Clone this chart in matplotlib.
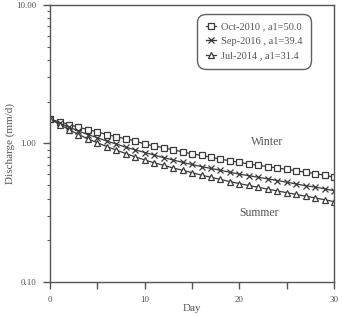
import numpy as np
import matplotlib
matplotlib.use('Agg')
import matplotlib.pyplot as plt
from matplotlib.ticker import FixedLocator, FuncFormatter, LogLocator, NullFormatter

plt.rcParams['font.family'] = ['Liberation Serif', 'DejaVu Serif']

days = np.arange(0, 31)

# discharge (mm/d)
oct_2010 = [1.50, 1.43, 1.37, 1.31, 1.26, 1.21, 1.16, 1.12, 1.08, 1.04,
            0.99, 0.96, 0.93, 0.90, 0.87, 0.84, 0.82, 0.795, 0.77, 0.75,
            0.73, 0.71, 0.695, 0.68, 0.665, 0.65, 0.635, 0.62, 0.605, 0.59,
            0.57]
sep_2016 = [1.50, 1.40, 1.31, 1.23, 1.16, 1.10, 1.04, 0.99, 0.94, 0.90,
            0.86, 0.825, 0.79, 0.76, 0.73, 0.705, 0.68, 0.66, 0.64, 0.62,
            0.60, 0.585, 0.57, 0.555, 0.54, 0.525, 0.51, 0.495, 0.485, 0.47,
            0.456]
jul_2014 = [1.50, 1.37, 1.26, 1.16, 1.08, 1.01, 0.95, 0.895, 0.845, 0.80,
            0.76, 0.725, 0.695, 0.665, 0.64, 0.615, 0.59, 0.57, 0.55, 0.53,
            0.513, 0.497, 0.482, 0.468, 0.454, 0.441, 0.428, 0.416, 0.404, 0.392,
            0.38]

labels = ['Oct-2010 , a1=50.0', 'Sep-2016 , a1=39.4', 'Jul-2014 , a1=31.4']

dark = '#3a3a3a'
grey = '#555555'

fig = plt.figure(figsize=(3.43, 3.16), dpi=100)
ax = fig.add_axes([0.146, 0.108, 0.828, 0.876])

kw = dict(color=dark, lw=0.9, ms=5, mew=0.9, mfc='white')
ax.plot(days, oct_2010, marker='s', label=labels[0], **kw)
ax.plot(days, sep_2016, marker='x', label=labels[1], **kw)
ax.plot(days, jul_2014, marker='^', label=labels[2], **kw)

ax.set_yscale('log')
ax.set_ylim(0.1, 10)
ax.set_xlim(0, 30)

ax.yaxis.set_major_locator(FixedLocator([0.1, 1, 10]))
ax.yaxis.set_major_formatter(FuncFormatter(lambda v, p: '%.2f' % v))
ax.yaxis.set_minor_locator(LogLocator(base=10, subs=np.arange(2, 10)))
ax.yaxis.set_minor_formatter(NullFormatter())

ax.set_xticks([0, 5, 10, 15, 20, 25, 30])
ax.set_xticklabels(['0', '', '10', '', '20', '', '30'])

for s in ax.spines.values():
    s.set_color(grey)
    s.set_linewidth(1.0)

ax.tick_params(axis='both', which='major', direction='out', length=5, width=1,
               color=grey, labelcolor=grey, labelsize=6.5, pad=5)
ax.tick_params(axis='y', which='minor', direction='out', length=2.5, width=0.8,
               color=grey)

ax.set_xlabel('Day', fontsize=8, color=grey, labelpad=0)
ax.set_ylabel('Discharge (mm/d)', fontsize=8, color=grey, labelpad=1)

ax.text(22.9, 1.02, 'Winter', fontsize=8.5, color=grey, ha='center', va='center')
ax.text(22.1, 0.315, 'Summer', fontsize=8.5, color=grey, ha='center', va='center')

leg = ax.legend(loc='upper right', bbox_to_anchor=(0.93, 0.98), fontsize=7.5,
                frameon=True, fancybox=True, handlelength=1.0, handletextpad=0.5,
                labelspacing=0.5, borderpad=0.6, labelcolor=grey)
leg.get_frame().set_edgecolor(dark)
leg.get_frame().set_linewidth(1.0)
leg.get_frame().set_boxstyle('round,pad=0.2,rounding_size=0.8')

fig.savefig('out.png', dpi=100)
